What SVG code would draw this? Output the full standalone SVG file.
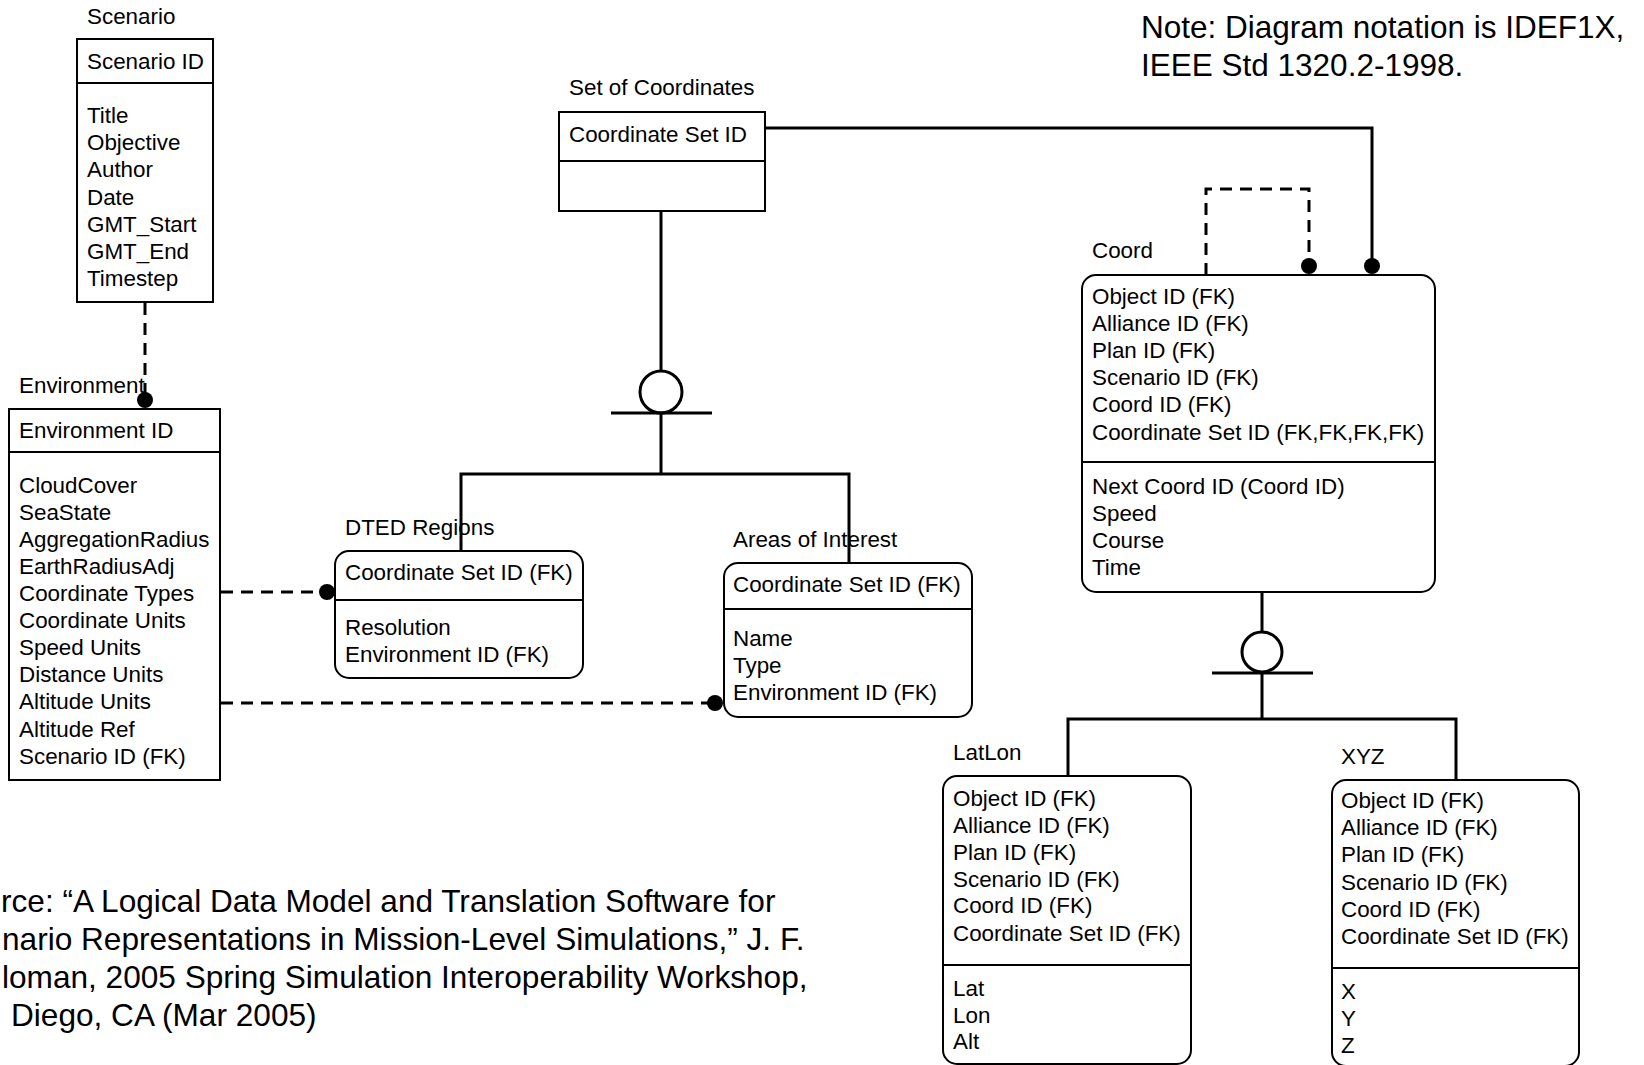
<svg xmlns="http://www.w3.org/2000/svg" width="1644" height="1065" viewBox="0 0 1644 1065">
<style>
text{font-family:"Liberation Sans",Arial,sans-serif;font-size:22.4px;fill:#000}
.big{font-size:31.5px}
.src{font-size:31.6px}
.box{fill:#fff;stroke:#000;stroke-width:2}
.div{stroke:#000;stroke-width:2}
.ln{fill:none;stroke:#000;stroke-width:3}
.dash{fill:none;stroke:#000;stroke-width:3;stroke-dasharray:12 8}
.dot{fill:#000}
.circ{fill:#fff;stroke:#000;stroke-width:3}
</style>
<rect width="1644" height="1065" fill="#fff"/>

<g id="note">
<text class="big" x="1141" y="38">Note: Diagram notation is IDEF1X,</text>
<text class="big" x="1141" y="76">IEEE Std 1320.2-1998.</text>
</g>

<g id="source">
<text class="src" x="1" y="912">rce: “A Logical Data Model and Translation Software for</text>
<text class="src" x="2" y="950">nario Representations in Mission-Level Simulations,” J. F.</text>
<text class="src" x="2" y="988">loman, 2005 Spring Simulation Interoperability Workshop,</text>
<text class="src" x="11" y="1026">Diego, CA (Mar 2005)</text>
</g>

<g id="node-scenario">
<text x="87" y="24">Scenario</text>
<rect class="box" x="77" y="39" width="136" height="263"/>
<line class="div" x1="77" y1="83" x2="213" y2="83"/>
<text x="87" y="69">Scenario ID</text>
<text x="87" y="123">Title</text>
<text x="87" y="150">Objective</text>
<text x="87" y="177">Author</text>
<text x="87" y="205">Date</text>
<text x="87" y="232">GMT_Start</text>
<text x="87" y="259">GMT_End</text>
<text x="87" y="286">Timestep</text>
</g>

<g id="node-environment">
<text x="19" y="393">Environment</text>
<rect class="box" x="9" y="409" width="211" height="371"/>
<line class="div" x1="9" y1="452" x2="220" y2="452"/>
<text x="19" y="438">Environment ID</text>
<text x="19" y="493">CloudCover</text>
<text x="19" y="520">SeaState</text>
<text x="19" y="547">AggregationRadius</text>
<text x="19" y="574">EarthRadiusAdj</text>
<text x="19" y="601">Coordinate Types</text>
<text x="19" y="628">Coordinate Units</text>
<text x="19" y="655">Speed Units</text>
<text x="19" y="682">Distance Units</text>
<text x="19" y="709">Altitude Units</text>
<text x="19" y="737">Altitude Ref</text>
<text x="19" y="764">Scenario ID (FK)</text>
</g>

<g id="node-set-of-coordinates">
<text x="569" y="95">Set of Coordinates</text>
<rect class="box" x="559" y="112" width="206" height="99"/>
<line class="div" x1="559" y1="161" x2="765" y2="161"/>
<text x="569" y="142">Coordinate Set ID</text>
</g>

<g id="node-dted">
<text x="345" y="535">DTED Regions</text>
<rect class="box" x="335" y="551" width="248" height="127" rx="14"/>
<line class="div" x1="335" y1="600" x2="583" y2="600"/>
<text x="345" y="580">Coordinate Set ID (FK)</text>
<text x="345" y="635">Resolution</text>
<text x="345" y="662">Environment ID (FK)</text>
</g>

<g id="node-areas">
<text x="733" y="547">Areas of Interest</text>
<rect class="box" x="724" y="563" width="248" height="154" rx="14"/>
<line class="div" x1="724" y1="609" x2="972" y2="609"/>
<text x="733" y="592">Coordinate Set ID (FK)</text>
<text x="733" y="646">Name</text>
<text x="733" y="673">Type</text>
<text x="733" y="700">Environment ID (FK)</text>
</g>

<g id="node-coord">
<text x="1092" y="258">Coord</text>
<rect class="box" x="1082" y="275" width="353" height="317" rx="14"/>
<line class="div" x1="1082" y1="462" x2="1435" y2="462"/>
<text x="1092" y="304">Object ID (FK)</text>
<text x="1092" y="331">Alliance ID (FK)</text>
<text x="1092" y="358">Plan ID (FK)</text>
<text x="1092" y="385">Scenario ID (FK)</text>
<text x="1092" y="412">Coord ID (FK)</text>
<text x="1092" y="440">Coordinate Set ID (FK,FK,FK,FK)</text>
<text x="1092" y="494">Next Coord ID (Coord ID)</text>
<text x="1092" y="521">Speed</text>
<text x="1092" y="548">Course</text>
<text x="1092" y="575">Time</text>
</g>

<g id="node-latlon">
<text x="953" y="760">LatLon</text>
<rect class="box" x="943" y="776" width="248" height="288" rx="14"/>
<line class="div" x1="943" y1="965" x2="1191" y2="965"/>
<text x="953" y="806">Object ID (FK)</text>
<text x="953" y="833">Alliance ID (FK)</text>
<text x="953" y="860">Plan ID (FK)</text>
<text x="953" y="887">Scenario ID (FK)</text>
<text x="953" y="913">Coord ID (FK)</text>
<text x="953" y="941">Coordinate Set ID (FK)</text>
<text x="953" y="996">Lat</text>
<text x="953" y="1023">Lon</text>
<text x="953" y="1049">Alt</text>
</g>

<g id="node-xyz">
<text x="1341" y="764">XYZ</text>
<rect class="box" x="1332" y="780" width="247" height="286" rx="14"/>
<line class="div" x1="1332" y1="968" x2="1579" y2="968"/>
<text x="1341" y="808">Object ID (FK)</text>
<text x="1341" y="835">Alliance ID (FK)</text>
<text x="1341" y="862">Plan ID (FK)</text>
<text x="1341" y="890">Scenario ID (FK)</text>
<text x="1341" y="917">Coord ID (FK)</text>
<text x="1341" y="944">Coordinate Set ID (FK)</text>
<text x="1341" y="999">X</text>
<text x="1341" y="1026">Y</text>
<text x="1341" y="1053">Z</text>
</g>

<g id="connectors">
<line class="dash" x1="145" y1="303" x2="145" y2="395"/>
<circle class="dot" cx="145" cy="400" r="8"/>
<line class="dash" x1="221" y1="592" x2="322" y2="592"/>
<circle class="dot" cx="327" cy="592" r="8"/>
<line class="dash" x1="221" y1="703" x2="710" y2="703"/>
<circle class="dot" cx="715" cy="703" r="8"/>
<line class="ln" x1="661" y1="211" x2="661" y2="371"/>
<circle class="circ" cx="661" cy="392" r="21"/>
<line class="ln" x1="611" y1="413" x2="712" y2="413"/>
<polyline class="ln" points="661,413 661,474"/>
<polyline class="ln" points="461,551 461,474 849,474 849,563"/>
<polyline class="ln" points="765,128 1372,128 1372,262"/>
<circle class="dot" cx="1372" cy="266" r="8"/>
<polyline class="dash" points="1206,275 1206,189 1309,189 1309,262"/>
<circle class="dot" cx="1309" cy="266" r="8"/>
<line class="ln" x1="1262" y1="592" x2="1262" y2="632"/>
<circle class="circ" cx="1262" cy="652" r="20"/>
<line class="ln" x1="1212" y1="673" x2="1313" y2="673"/>
<line class="ln" x1="1262" y1="673" x2="1262" y2="719"/>
<polyline class="ln" points="1068,776 1068,719 1456,719 1456,780"/>
</g>
</svg>
